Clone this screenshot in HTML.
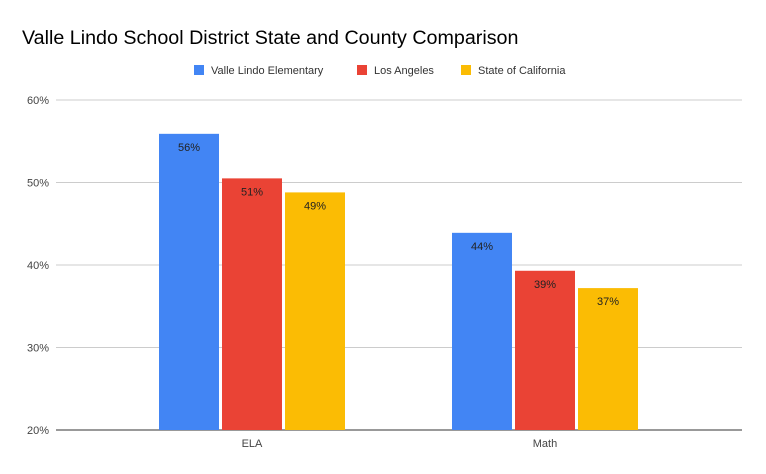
<!DOCTYPE html>
<html><head><meta charset="utf-8"><style>
html,body{margin:0;padding:0;background:#fff;overflow:hidden;font-family:"Liberation Sans",sans-serif}
svg{display:block}
svg text{font-family:"Liberation Sans",sans-serif}
</style></head><body>
<svg id="c" width="766" height="474">
<rect width="766" height="474" fill="#fff"/>
<text x="22" y="44" font-size="19.7" fill="#000">Valle Lindo School District State and County Comparison</text>
<g id="legend"></g>
<g id="grid"></g>
<g id="bars"></g>
<g id="xlab"></g>
</svg>
<script>
const categories=["ELA","Math"];
const seriesNames=["Valle Lindo Elementary","Los Angeles","State of California"];
const valleLindo=[55.9,43.9];
const losAngeles=[50.5,39.3];
const stateCA=[48.8,37.2];
const yTicks=[20,30,40,50,60];
const colors=["#4285f4","#ea4335","#fbbc04"];
const series=[valleLindo,losAngeles,stateCA];
const NS="http://www.w3.org/2000/svg";
function mk(t,a,p){const e=document.createElementNS(NS,t);for(const k in a)e.setAttribute(k,a[k]);p.appendChild(e);return e;}
const yMin=20,yMax=60,plotTop=100,plotBot=430;
function y(v){return plotBot-(v-yMin)/(yMax-yMin)*(plotBot-plotTop);}
const bandL=105.5,band=293,barW=60,gap=3;
function xc(i){return bandL+band*(i+0.5);}
const grid=document.getElementById('grid');
yTicks.forEach(t=>{
 const l=mk('line',{x1:56,x2:742,y1:y(t),y2:y(t),stroke:t===yMin?'#333':'#ccc','stroke-width':1},grid);
 
 
 const tx=mk('text',{x:49,y:y(t)+4,'text-anchor':'end','font-size':11,fill:'#444'},grid);
 tx.textContent=t+'%';
 
 
});
const bars=document.getElementById('bars');
categories.forEach((c,i)=>{
 series.forEach((s,j)=>{
  const x=xc(i)-(3*barW+2*gap)/2+j*(barW+gap);
  const r=mk('rect',{x:x,y:y(s[i]),width:barW,height:plotBot-y(s[i]),fill:colors[j]},bars);
  
  
  const t=mk('text',{x:x+barW/2,y:y(s[i])+17,'text-anchor':'middle','font-size':11,fill:'#222'},bars);
  t.textContent=Math.round(s[i])+'%';
  
  
 });
 const t=mk('text',{x:xc(i),y:447,'text-anchor':'middle','font-size':11,fill:'#444'},document.getElementById('xlab'));
 t.textContent=c;
 
 
});
const leg=document.getElementById('legend');
const lx=[194,357,461];
seriesNames.forEach((n,j)=>{
 const r=mk('rect',{x:lx[j],y:65,width:10,height:10,fill:colors[j]},leg);
 
 
 const t=mk('text',{x:lx[j]+17,y:74,'font-size':11,fill:'#333'},leg);
 t.textContent=n;
 
 
});
</script>
</body></html>
